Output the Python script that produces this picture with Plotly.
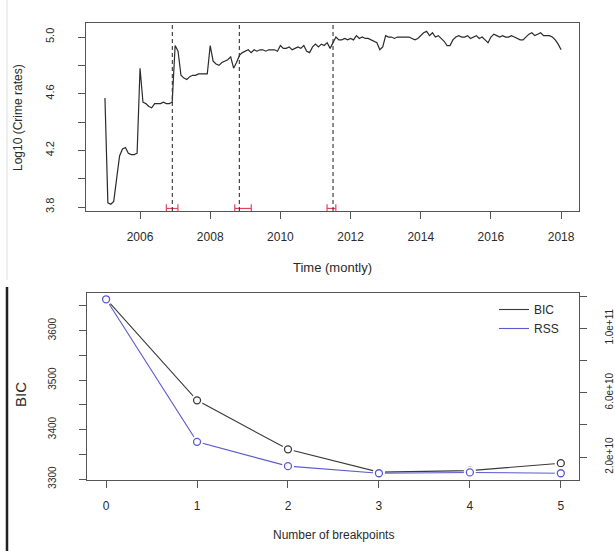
import plotly.graph_objects as go

# ---------------- data ----------------
start_year = 2005
crime_log10 = [
    # 2005
    4.57, 3.83, 3.82, 3.84, 4.00, 4.16, 4.21, 4.22, 4.18, 4.17, 4.17, 4.18,
    # 2006
    4.78, 4.54, 4.53, 4.51, 4.50, 4.53, 4.53, 4.53, 4.54, 4.53, 4.53, 4.54,
    # 2007
    4.94, 4.90, 4.73, 4.71, 4.70, 4.72, 4.73, 4.73, 4.74, 4.74, 4.74, 4.74,
    # 2008
    4.94, 4.83, 4.81, 4.80, 4.82, 4.83, 4.84, 4.86, 4.78, 4.82, 4.87, 4.89,
    # 2009
    4.90, 4.91, 4.89, 4.91, 4.90, 4.91, 4.91, 4.90, 4.91, 4.91, 4.91, 4.90,
    # 2010
    4.94, 4.92, 4.92, 4.93, 4.91, 4.92, 4.93, 4.92, 4.94, 4.90, 4.89, 4.93,
    # 2011
    4.95, 4.93, 4.95, 4.94, 4.96, 4.92, 4.96, 5.00, 4.98, 4.98, 4.99, 4.98,
    # 2012
    4.99, 4.98, 5.01, 4.99, 5.00, 4.99, 4.99, 4.98, 4.97, 4.96, 4.91, 4.93,
    # 2013
    5.01, 5.00, 5.00, 4.99, 5.00, 5.00, 5.00, 5.00, 5.00, 4.99, 4.98, 4.99,
    # 2014
    5.01, 5.03, 5.04, 5.01, 5.03, 5.00, 5.01, 4.99, 4.97, 4.94, 4.94, 4.98,
    # 2015
    5.00, 5.01, 5.00, 5.00, 5.01, 4.99, 5.00, 5.01, 4.99, 5.00, 4.98, 4.96,
    # 2016
    5.00, 5.02, 5.01, 5.00, 5.01, 5.00, 5.00, 5.01, 5.00, 4.99, 4.98, 4.98,
    # 2017
    5.00, 5.02, 5.03, 5.01, 5.02, 5.03, 5.01, 5.01, 5.01, 5.00, 4.98, 4.95,
    # 2018
    4.91,
]
breakpoints = [2006.92, 2008.83, 2011.50]
ci_lower = [2006.75, 2008.70, 2011.33]
ci_upper = [2007.08, 2009.17, 2011.58]

n_breaks = [0, 1, 2, 3, 4, 5]
bic_values = [3664, 3459, 3360, 3314, 3317, 3332]
rss_values = [1.18e11, 2.95e10, 1.44e10, 1.00e10, 1.05e10, 1.00e10]

top_xticks = [2006, 2008, 2010, 2012, 2014, 2016, 2018]
top_yticks = [3.8, 4.0, 4.2, 4.4, 4.6, 4.8, 5.0]
top_ylabels = ["3.8", "", "4.2", "", "4.6", "", "5.0"]
bic_ticks = [3300, 3350, 3400, 3450, 3500, 3550, 3600, 3650]
bic_labels = ["3300", "", "3400", "", "3500", "", "3600", ""]
rss_ticks = [2e10, 4e10, 6e10, 8e10, 1e11, 1.2e11]
rss_labels = ["2.0e+10", "", "6.0e+10", "", "1.0e+11", ""]

# ---------------- figure ----------------
W, H = 615, 551
FONT = "Liberation Sans"
TXT = "#2a2a2a"
BLUE = "#5a5ad0"
DARK = "#3a3a3a"

def px_x(p):
    return p / W

def px_y(p):
    return 1 - p / H

time = [start_year + i / 12 for i in range(len(crime_log10))]

fig = go.Figure()

# top panel: series
fig.add_trace(go.Scatter(x=time, y=crime_log10, mode="lines",
                         line=dict(color="#2b2b2b", width=1.2),
                         showlegend=False, xaxis="x", yaxis="y", hoverinfo="skip"))
# confidence intervals of breakpoints (red, at bottom)
for lo, hi in zip(ci_lower, ci_upper):
    fig.add_trace(go.Scatter(x=[lo, hi], y=[3.79, 3.79], mode="lines+markers",
                             line=dict(color="#e0455a", width=1.2),
                             marker=dict(symbol="line-ns-open", size=6, color="#e0455a",
                                         line=dict(color="#e0455a", width=1.2)),
                             showlegend=False, xaxis="x", yaxis="y", hoverinfo="skip"))

# bottom panel
fig.add_trace(go.Scatter(x=n_breaks, y=bic_values, mode="lines",
                         line=dict(color=DARK, width=1.1),
                         showlegend=False, xaxis="x2", yaxis="y2"))
fig.add_trace(go.Scatter(x=n_breaks, y=rss_values, mode="lines",
                         line=dict(color=BLUE, width=1.1),
                         showlegend=False, xaxis="x2", yaxis="y3"))
# white masks to mimic type="b" gaps
fig.add_trace(go.Scatter(x=n_breaks, y=bic_values, mode="markers",
                         marker=dict(symbol="circle", size=12, color="white"),
                         showlegend=False, xaxis="x2", yaxis="y2"))
fig.add_trace(go.Scatter(x=n_breaks, y=rss_values, mode="markers",
                         marker=dict(symbol="circle", size=12, color="white"),
                         showlegend=False, xaxis="x2", yaxis="y3"))
fig.add_trace(go.Scatter(x=n_breaks, y=bic_values, mode="markers",
                         marker=dict(symbol="circle-open", size=7, color=DARK,
                                     line=dict(color=DARK, width=1.3)),
                         showlegend=False, xaxis="x2", yaxis="y2"))
fig.add_trace(go.Scatter(x=n_breaks, y=rss_values, mode="markers",
                         marker=dict(symbol="circle-open", size=7, color=BLUE,
                                     line=dict(color=BLUE, width=1.3)),
                         showlegend=False, xaxis="x2", yaxis="y3"))
# legend entries (lines only)
fig.add_trace(go.Scatter(x=[None], y=[None], mode="lines", name="BIC",
                         line=dict(color=DARK, width=1.1), xaxis="x2", yaxis="y2"))
fig.add_trace(go.Scatter(x=[None], y=[None], mode="lines", name="RSS",
                         line=dict(color=BLUE, width=1.1), xaxis="x2", yaxis="y2"))

shapes = []
for bp in breakpoints:
    shapes.append(dict(type="line", xref="x", yref="y domain", x0=bp, x1=bp, y0=0, y1=1,
                       line=dict(color="#333333", width=1.1, dash="4px,3px")))
# screenshot edge lines
shapes.append(dict(type="line", xref="paper", yref="paper", x0=px_x(7), x1=px_x(7),
                   y0=px_y(0), y1=px_y(280), line=dict(color="#dddddd", width=1)))
shapes.append(dict(type="line", xref="paper", yref="paper", x0=px_x(7), x1=px_x(7),
                   y0=px_y(287), y1=px_y(551), line=dict(color="#222222", width=2.5)))

axis_common = dict(showline=True, linecolor="#555555", linewidth=1, mirror=True,
                   ticks="outside", ticklen=7, tickcolor="#555555", showgrid=False,
                   zeroline=False, automargin=False,
                   tickfont=dict(family=FONT, size=12, color=TXT))

annotations = [
    dict(text="Time (montly)", x=px_x(332), y=px_y(267), xref="paper", yref="paper",
         showarrow=False, font=dict(family=FONT, size=13, color=TXT),
         xanchor="center", yanchor="middle"),
    dict(text="Log10 (Crime rates)", x=px_x(18), y=px_y(118), xref="paper", yref="paper",
         showarrow=False, textangle=-90, font=dict(family=FONT, size=12, color=TXT),
         xanchor="center", yanchor="middle"),
    dict(text="Number of breakpoints", x=px_x(333), y=px_y(535), xref="paper", yref="paper",
         showarrow=False, font=dict(family=FONT, size=12, color=TXT),
         xanchor="center", yanchor="middle"),
    dict(text="BIC", x=px_x(20), y=px_y(395), xref="paper", yref="paper",
         showarrow=False, textangle=-90, font=dict(family=FONT, size=15, color=TXT),
         xanchor="center", yanchor="middle"),
]

fig.update_layout(
    width=W, height=H, margin=dict(l=0, r=0, t=0, b=0, autoexpand=False),
    paper_bgcolor="white", plot_bgcolor="white",
    font=dict(family=FONT, color=TXT),
    xaxis=dict(axis_common, domain=[px_x(86), px_x(579)], range=[2004.46, 2018.51],
               tickvals=top_xticks, ticklabelstandoff=8, anchor="y"),
    yaxis=dict(axis_common, domain=[px_y(211), px_y(23)], range=[3.772, 5.099],
               tickvals=top_yticks, ticktext=top_ylabels, tickangle=-90,
               tickfont=dict(family=FONT, size=11, color=TXT), ticklabelstandoff=20,
               anchor="x"),
    xaxis2=dict(axis_common, domain=[px_x(87), px_x(579)], range=[-0.21, 5.2],
                tickvals=n_breaks, ticklabelstandoff=8, anchor="y2"),
    yaxis2=dict(axis_common, domain=[px_y(480), px_y(293)], range=[3298, 3676],
                tickvals=bic_ticks, ticktext=bic_labels, tickangle=-90,
                tickfont=dict(family=FONT, size=10, color=TXT), ticklabelstandoff=19,
                anchor="x2"),
    yaxis3=dict(showline=False, ticks="outside", ticklen=7, tickcolor="#555555",
                showgrid=False, zeroline=False, overlaying="y2", side="right",
                anchor="x2", range=[5.8e9, 1.219e11], tickvals=rss_ticks,
                ticktext=rss_labels, tickangle=-90, ticklabelstandoff=14,
                automargin=False,
                tickfont=dict(family=FONT, size=10, color=TXT)),
    legend=dict(x=px_x(494), y=px_y(295), xanchor="left", yanchor="top",
                bgcolor="rgba(0,0,0,0)", font=dict(family=FONT, size=12, color=TXT),
                itemwidth=30, tracegroupgap=0),
    shapes=shapes,
    annotations=annotations,
)

fig.write_html("out.html")
